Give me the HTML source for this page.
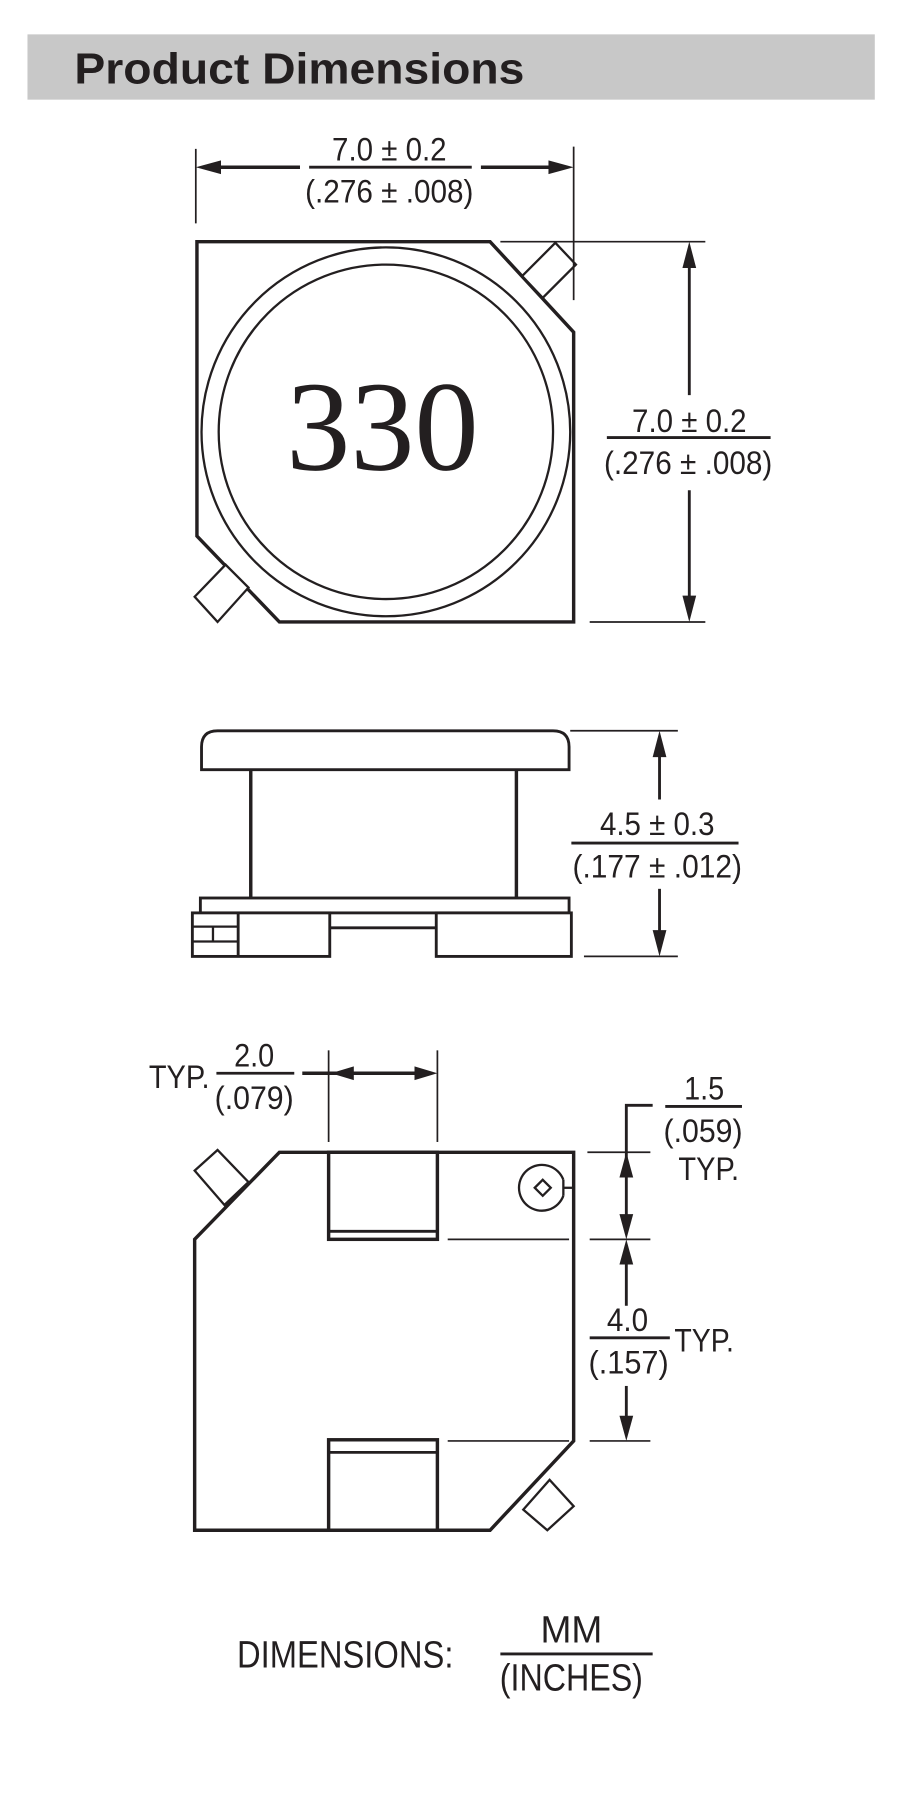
<!DOCTYPE html>
<html><head><meta charset="utf-8"><style>
html,body{margin:0;padding:0;background:#fff;}
svg{display:block;}
text{font-family:"Liberation Sans Narrow","Liberation Sans",sans-serif;fill:#231f20;}
</style></head><body>
<svg width="908" height="1796" viewBox="0 0 793 1568" preserveAspectRatio="none" xmlns="http://www.w3.org/2000/svg">
<rect x="24" y="30" width="740" height="57" fill="#c8c8c8"/>
<text x="65" y="73" font-size="38" font-weight="bold" textLength="393" lengthAdjust="spacingAndGlyphs" style="font-family:'Liberation Sans',sans-serif">Product Dimensions</text>

<g stroke="#231f20" fill="none">
<!-- TOP VIEW -->
<polygon points="172,211 428,211 501,290 501,543 244,543 172,468" stroke-width="3" fill="#fff"/>
<circle cx="337" cy="377" r="161" stroke-width="2"/>
<circle cx="337" cy="377" r="146" stroke-width="2"/>
<polygon points="456,241 485,212 503,231 474,260" stroke-width="2" fill="#fff"/>
<polygon points="170,521 197,493 217,513 190,543" stroke-width="2" fill="#fff"/>
<line x1="171" y1="130" x2="171" y2="195" stroke-width="1.5"/>
<line x1="501" y1="128" x2="501" y2="262" stroke-width="1.5"/>
<line x1="178" y1="146" x2="262" y2="146" stroke-width="3"/>
<line x1="420" y1="146" x2="494" y2="146" stroke-width="3"/>
<line x1="270" y1="146" x2="412" y2="146" stroke-width="2.5"/>
<line x1="437" y1="211" x2="616" y2="211" stroke-width="1.5"/>
<line x1="515" y1="543" x2="616" y2="543" stroke-width="1.5"/>
<line x1="602" y1="218" x2="602" y2="345" stroke-width="2.5"/>
<line x1="602" y1="428" x2="602" y2="536" stroke-width="2.5"/>
<line x1="530" y1="382" x2="673" y2="382" stroke-width="2.5"/>

<!-- SIDE VIEW -->
<path d="M176,672 L176,652 Q176,638 190,638 L483,638 Q497,638 497,652 L497,672 Z" stroke-width="2.5" fill="#fff"/>
<line x1="219" y1="672" x2="219" y2="784" stroke-width="3"/>
<line x1="451" y1="672" x2="451" y2="784" stroke-width="3"/>
<rect x="175" y="784" width="322" height="13" stroke-width="2.5"/>
<rect x="168" y="797" width="120" height="38" stroke-width="2.5" fill="#fff"/>
<rect x="381" y="797" width="118" height="38" stroke-width="2.5" fill="#fff"/>
<line x1="288" y1="810" x2="381" y2="810" stroke-width="2.5"/>
<line x1="208" y1="797" x2="208" y2="835" stroke-width="2.5"/>
<line x1="168" y1="809" x2="208" y2="809" stroke-width="2"/>
<line x1="168" y1="822" x2="208" y2="822" stroke-width="2"/>
<line x1="186" y1="809" x2="186" y2="822" stroke-width="2"/>
<line x1="498" y1="638" x2="592" y2="638" stroke-width="1.5"/>
<line x1="510" y1="835" x2="592" y2="835" stroke-width="1.5"/>
<line x1="576" y1="645" x2="576" y2="698" stroke-width="2.5"/>
<line x1="576" y1="776" x2="576" y2="828" stroke-width="2.5"/>
<line x1="499" y1="736" x2="645" y2="736" stroke-width="2.5"/>

<!-- BOTTOM VIEW -->
<polygon points="244,1006 501,1006 501,1258 428,1336 170,1336 170,1082" stroke-width="3" fill="#fff"/>
<polygon points="170,1022 190,1004 217,1032 196,1052" stroke-width="2" fill="#fff"/>
<polygon points="457,1318 480,1292 501,1315 478,1336" stroke-width="2" fill="#fff"/>
<rect x="287" y="1006" width="95" height="76" stroke-width="3"/>
<line x1="287" y1="1075" x2="382" y2="1075" stroke-width="2.5"/>
<rect x="287" y="1257" width="95" height="79" stroke-width="3"/>
<line x1="287" y1="1268" x2="382" y2="1268" stroke-width="2.5"/>
<path d="M492,1030 A20,20 0 1 0 492,1044" stroke-width="2"/>
<line x1="492" y1="1030" x2="492" y2="1044" stroke-width="2"/>
<line x1="492" y1="1037" x2="501" y2="1037" stroke-width="2"/>
<polygon points="474,1030 481,1037 474,1044 467,1037" stroke-width="2"/>
<line x1="287" y1="917" x2="287" y2="997" stroke-width="1.5"/>
<line x1="382" y1="917" x2="382" y2="997" stroke-width="1.5"/>
<line x1="264" y1="937" x2="375" y2="937" stroke-width="3"/>
<line x1="189" y1="937" x2="257" y2="937" stroke-width="2.5"/>
<line x1="513" y1="1006" x2="568" y2="1006" stroke-width="1.5"/>
<line x1="391" y1="1082" x2="497" y2="1082" stroke-width="1.5"/>
<line x1="515" y1="1082" x2="568" y2="1082" stroke-width="1.5"/>
<line x1="391" y1="1258" x2="497" y2="1258" stroke-width="1.5"/>
<line x1="515" y1="1258" x2="568" y2="1258" stroke-width="1.5"/>
<polyline points="570,965 547,965 547,1076" stroke-width="2.5"/>
<line x1="547" y1="1090" x2="547" y2="1140" stroke-width="2.5"/>
<line x1="547" y1="1210" x2="547" y2="1250" stroke-width="2.5"/>
<line x1="581" y1="966" x2="648" y2="966" stroke-width="2.5"/>
<line x1="515" y1="1168" x2="585" y2="1168" stroke-width="2.5"/>
<line x1="437" y1="1444" x2="570" y2="1444" stroke-width="2.5"/>
</g>

<g fill="#231f20">
<polygon points="171,146 193,140 193,152"/>
<polygon points="501,146 479,140 479,152"/>
<polygon points="602,211 596,234 608,234"/>
<polygon points="602,543 596,520 608,520"/>
<polygon points="576,638 570,661 582,661"/>
<polygon points="576,835 570,812 582,812"/>
<polygon points="289,937 309,931 309,943"/>
<polygon points="382,937 362,931 362,943"/>
<polygon points="547,1006 541,1028 553,1028"/>
<polygon points="547,1082 541,1060 553,1060"/>
<polygon points="547,1082 541,1104 553,1104"/>
<polygon points="547,1258 541,1236 553,1236"/>
</g>

<text x="334" y="410" font-size="112" text-anchor="middle" textLength="168" lengthAdjust="spacingAndGlyphs" style="font-family:'Liberation Serif',serif">330</text>

<g font-size="28" text-anchor="middle">
<text x="340" y="140" textLength="100" lengthAdjust="spacingAndGlyphs">7.0 ± 0.2</text>
<text x="340" y="177" textLength="147" lengthAdjust="spacingAndGlyphs">(.276 ± .008)</text>
<text x="602" y="377" textLength="100" lengthAdjust="spacingAndGlyphs">7.0 ± 0.2</text>
<text x="601" y="414" textLength="147" lengthAdjust="spacingAndGlyphs">(.276 ± .008)</text>
<text x="574" y="729" textLength="100" lengthAdjust="spacingAndGlyphs">4.5 ± 0.3</text>
<text x="574" y="766" textLength="148" lengthAdjust="spacingAndGlyphs">(.177 ± .012)</text>
<text x="222" y="931" textLength="35" lengthAdjust="spacingAndGlyphs">2.0</text>
<text x="222" y="968" textLength="69" lengthAdjust="spacingAndGlyphs">(.079)</text>
<text x="615" y="960" textLength="35" lengthAdjust="spacingAndGlyphs">1.5</text>
<text x="614" y="997" textLength="69" lengthAdjust="spacingAndGlyphs">(.059)</text>
<text x="619" y="1030" textLength="53" lengthAdjust="spacingAndGlyphs">TYP.</text>
<text x="548" y="1162" textLength="36" lengthAdjust="spacingAndGlyphs">4.0</text>
<text x="549" y="1199" textLength="70" lengthAdjust="spacingAndGlyphs">(.157)</text>
<text x="499" y="1434" font-size="33" textLength="54" lengthAdjust="spacingAndGlyphs">MM</text>
<text x="499" y="1476" font-size="33" textLength="125" lengthAdjust="spacingAndGlyphs">(INCHES)</text>
</g>
<text x="130" y="950" font-size="28" textLength="53" lengthAdjust="spacingAndGlyphs">TYP.</text>
<text x="589" y="1180" font-size="28" textLength="52" lengthAdjust="spacingAndGlyphs">TYP.</text>
<text x="207" y="1456" font-size="33" textLength="189" lengthAdjust="spacingAndGlyphs">DIMENSIONS:</text>
</svg>
</body></html>
